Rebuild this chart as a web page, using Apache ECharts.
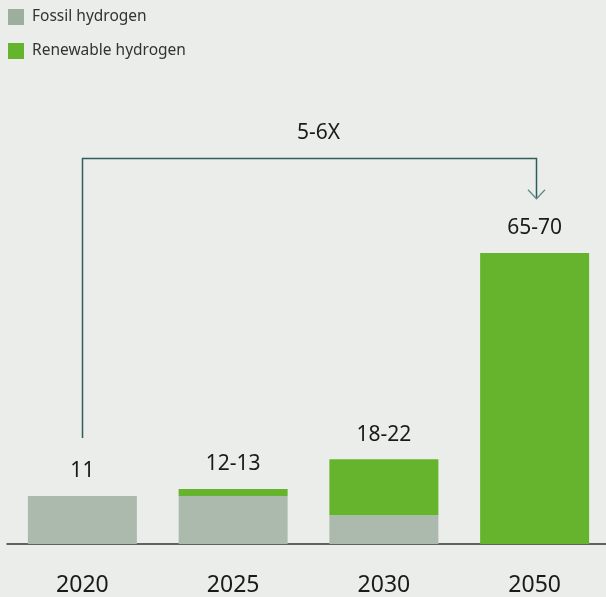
<!DOCTYPE html>
<html>
<head>
<meta charset="utf-8">
<script src="https://cdn.jsdelivr.net/npm/echarts@6/dist/echarts.min.js"></script>
<style>
html,body{margin:0;padding:0;background:#ebedea;}
#chart{width:606px;height:597px;}
</style>
</head>
<body>
<div id="chart"></div>
<script>
const categories = ['2020', '2025', '2030', '2050'];
const fossil = [11, 11, 6.6, 0];
const renewable = [0, 1.6, 12.8, 66.7];
const totalLabels = ['11', '12-13', '18-22', '65-70'];
const seriesNames = ['Fossil hydrogen', 'Renewable hydrogen'];
const multiplierText = '5-6X';
// bracket annotation: from 2020 to 2050, values on the y scale
const bracketFrom = { cat: '2020', value: 24.3 };
const bracketTop = 88.4;
const bracketTo = { cat: '2050', value: 79.1 };

const FONT = '"Noto Sans", sans-serif';
const chart = echarts.init(document.getElementById('chart'));
const option = {
  backgroundColor: '#ebedea',
  animation: false,
  legend: {
    orient: 'vertical',
    left: 3, top: 4,
    itemWidth: 16, itemHeight: 16, itemGap: 18,
    icon: 'rect',
    textStyle: { fontSize: 15.5, color: '#333', fontFamily: FONT, padding: [0, 0, 0, 3] },
    data: [
      { name: seriesNames[0], itemStyle: { color: '#9dae9f' } },
      { name: seriesNames[1], itemStyle: { color: '#66b32e' } }
    ]
  },
  grid: { left: 7, width: 603, top: 107.6, bottom: 53, containLabel: false, outerBoundsMode: 'none' },
  xAxis: {
    type: 'category',
    data: categories,
    axisLine: { lineStyle: { color: '#333', width: 1.5 } },
    axisTick: { show: false },
    axisLabel: { color: '#1a1a1a', fontSize: 23, fontFamily: FONT, margin: 30 }
  },
  yAxis: { type: 'value', min: 0, max: 100, show: false, splitLine: { show: false } },
  series: [
    {
      name: seriesNames[0], type: 'bar', stack: 'h', barWidth: 109,
      itemStyle: { color: '#abbaad' },
      data: fossil
    },
    {
      name: seriesNames[1], type: 'bar', stack: 'h', barWidth: 109,
      itemStyle: { color: '#66b32e' },
      data: renewable,
      label: {
        show: true, position: 'top', distance: 14,
        fontSize: 21, color: '#1a1a1a', fontFamily: FONT,
        formatter: p => totalLabels[p.dataIndex]
      }
    }
  ]
};
chart.setOption(option);

const p0 = chart.convertToPixel({ xAxisIndex: 0, yAxisIndex: 0 }, [bracketFrom.cat, bracketFrom.value]);
const pT = chart.convertToPixel({ xAxisIndex: 0, yAxisIndex: 0 }, [bracketFrom.cat, bracketTop]);
const p1 = chart.convertToPixel({ xAxisIndex: 0, yAxisIndex: 0 }, [bracketTo.cat, bracketTo.value]);
const xL = Math.round(p0[0]) + 0.5, xR = Math.round(p1[0]) + 1.5;
const yT = Math.round(pT[1]) + 0.5;
const lineColor = '#2c5f5c';
chart.setOption({
  graphic: [
    { type: 'polyline', shape: { points: [[xL, p0[1]], [xL, yT], [xR, yT], [xR, p1[1]]] },
      style: { stroke: lineColor, lineWidth: 1.5, fill: null } },
    { type: 'polyline', shape: { points: [[xR - 8.5, p1[1] - 9], [xR, p1[1]], [xR + 8.5, p1[1] - 9]] },
      style: { stroke: '#5f8a88', lineWidth: 1.3, fill: null } },
    { type: 'text', x: (xL + xR) / 2 + 9, y: yT - 25,
      style: { text: multiplierText, fontSize: 21, fill: '#1a1a1a', fontFamily: FONT, align: 'center', verticalAlign: 'middle' } }
  ]
});
</script>
</body>
</html>
